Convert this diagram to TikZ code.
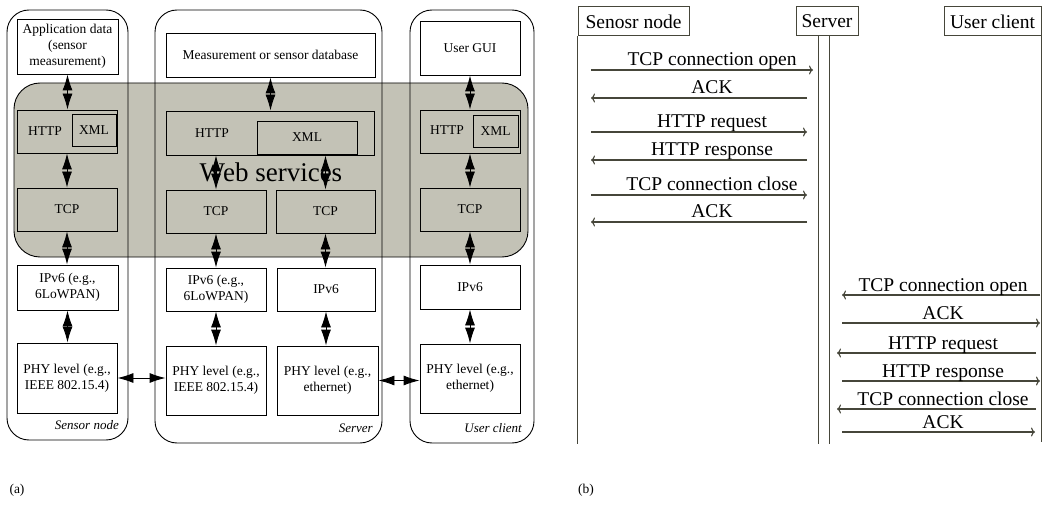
\documentclass[tikz,border=0pt]{standalone}
\usepackage{fontspec}
\setmainfont{Liberation Serif}
\usetikzlibrary{arrows.meta}

\definecolor{wsgray}{RGB}{195,194,182}
\definecolor{seqline}{RGB}{70,70,58}
\newcommand{\boxfont}{\fontsize{13.5}{16}\selectfont}
\newcommand{\seqfont}{\fontsize{19.5}{22}\selectfont}

\tikzset{
  layer/.style={draw, line width=0.9pt, minimum width=100pt, inner sep=1pt, align=center, font=\boxfont},
  txt/.style={inner sep=0pt, font=\boxfont},
  tag/.style={inner sep=0pt, font=\fontsize{13}{15}\selectfont\itshape},
  stack/.style={line width=0.9pt, rounded corners=22pt},
  biarrow/.style={{Latex[length=16pt,width=10pt]}-{Latex[length=16pt,width=10pt]}, line width=0.9pt},
  actor/.style={draw=seqline, line width=1pt, minimum height=29pt, inner sep=1pt, font=\seqfont},
  life/.style={draw=seqline, line width=1pt},
  msg/.style={draw=seqline, line width=1.1pt, -{To[length=4pt,width=9pt]}},
  msglbl/.style={anchor=base, inner sep=0pt, font=\seqfont}
}

\begin{document}
\begin{tikzpicture}[x=1pt,y=-1pt]
  \useasboundingbox (0,0) rectangle (1045,508);

  % (a) protocol stacks
  \draw[line width=0.9pt, fill=wsgray, rounded corners=26pt] (14,83) rectangle (528,257);
  \node[font=\fontsize{27}{32}\selectfont] (ws) at (271,172) {Web services};
  \draw[stack] (7,10) rectangle (128,440);
  \draw[stack] (155,10) rectangle (382,443);
  \draw[stack] (410,10) rectangle (534,443);

  % sensor node
  \node[layer, minimum width=101pt, minimum height=55pt] (sapp) at (67.5,46.5) {Application data\\(sensor\\measurement)};
  \node[layer, minimum height=43pt] (shttp) at (67,131.5) {};
  \node[layer, minimum width=44pt, minimum height=32pt] (sxml) at (94,130) {XML};
  \node[txt] (shttpt) at (45,131) {HTTP};
  \node[layer, minimum height=43pt] (stcp) at (67,209.5) {TCP};
  \node[layer, minimum width=101pt, minimum height=45pt] (sip) at (67.5,287.5) {IPv6 (e.g.,\\6LoWPAN)};
  \node[layer, minimum height=70pt] (sphy) at (67,378) {PHY level (e.g.,\\IEEE 802.15.4)};
  \node[tag, anchor=east] (slbl) at (119,425) {Sensor node};

  % server
  \node[layer, minimum width=209pt, minimum height=44pt] (vdb) at (270.5,55) {Measurement or sensor database};
  \node[layer, minimum width=208pt, minimum height=44pt] (vhttp) at (270,133) {};
  \node[layer, minimum width=100pt, minimum height=33pt] (vxml) at (307,137.5) {XML};
  \node[txt] (vhttpt) at (212,133) {HTTP};
  \node[layer, minimum height=43pt] (vtcpa) at (216,211.5) {TCP};
  \node[layer, minimum width=99pt, minimum height=43pt] (vtcpb) at (325.5,211.5) {TCP};
  \node[layer, minimum height=43pt] (vipa) at (216,289.5) {IPv6 (e.g.,\\6LoWPAN)};
  \node[layer, minimum width=98pt, minimum height=43pt] (vipb) at (326,289.5) {IPv6};
  \node[layer, minimum height=69pt] (vphya) at (216,380.5) {PHY level (e.g.,\\IEEE 802.15.4)};
  \node[layer, minimum width=101pt, minimum height=69pt] (vphyb) at (327.5,380.5) {PHY level (e.g.,\\ethernet)};
  \node[tag, anchor=east] (vlbl) at (373,428) {Server};

  % user client
  \node[layer, minimum height=54pt] (ugui) at (470,48) {User GUI};
  \node[layer, minimum height=43pt] (uhttp) at (470,131.5) {};
  \node[layer, minimum width=45pt, minimum height=32pt] (uxml) at (495.5,131) {XML};
  \node[txt] (uhttpt) at (447,130) {HTTP};
  \node[layer, minimum height=43pt] (utcp) at (470,209.5) {TCP};
  \node[layer, minimum height=44pt] (uip) at (470,287) {IPv6};
  \node[layer, minimum height=69pt] (uphy) at (470,378.5) {PHY level (e.g.,\\ethernet)};
  \node[tag, anchor=east] (ulbl) at (522,428) {User client};

  \foreach \a/\b in {sapp/shttp, shttp/stcp, stcp/sip, sip/sphy, vdb/vhttp, vtcpa/vipa, vipa/vphya,
                     vtcpb/vipb, vipb/vphyb, ugui/uhttp, uhttp/utcp, utcp/uip, uip/uphy}
    \draw[biarrow] (\a.south) -- (\a.south |- \b.north);
  \draw[biarrow] (vtcpa.north |- vhttp.south) -- (vtcpa.north);
  \draw[biarrow] (vtcpb.north |- vhttp.south) -- (vtcpb.north);
  \draw[biarrow] (sphy.east) -- (sphy.east -| vphya.west);
  \draw[biarrow] (vphyb.east) -- (vphyb.east -| uphy.west);

  \node[txt] (pa) at (17,490) {(a)};
  \node[txt] (pb) at (586,490) {(b)};

  % (b) message sequence
  \node[actor, minimum width=111pt] (sn) at (633.5,21.5) {Senosr node};
  \node[actor, minimum width=62pt] (srv) at (827,21.5) {Server};
  \node[actor, minimum width=97pt] (uc) at (992.5,21.5) {User client};
  \draw[life] (sn.south west) -- ++(0,407);
  \draw[life] ([xshift=-9pt]srv.south) -- ++(0,407);
  \draw[life] ([xshift=2pt]srv.south) -- ++(0,407);
  \draw[life] (uc.south east) -- ++(0,405);

  \foreach \ya/\xa/\xb/\xl/\txt in {70/591/813/712/TCP connection open, 98/807/591/712/ACK,
      132/591/807/712/HTTP request, 160/807/591/712/HTTP response,
      195/591/807/712/TCP connection close, 222/807/591/712/ACK,
      295/1040/842/943/TCP connection open, 323/842/1040/943/ACK,
      353/1036/837/943/HTTP request, 381/842/1040/943/HTTP response,
      409/1036/837/943/TCP connection close, 432/842/1035/943/ACK}{
    \coordinate (ma) at (\xa,\ya);
    \coordinate (mb) at (\xb,\ya);
    \draw[msg] (ma) -- (mb);
    \node[msglbl] (ml) at (\xl,\ya-4) {\txt};
  }
\end{tikzpicture}
\end{document}
